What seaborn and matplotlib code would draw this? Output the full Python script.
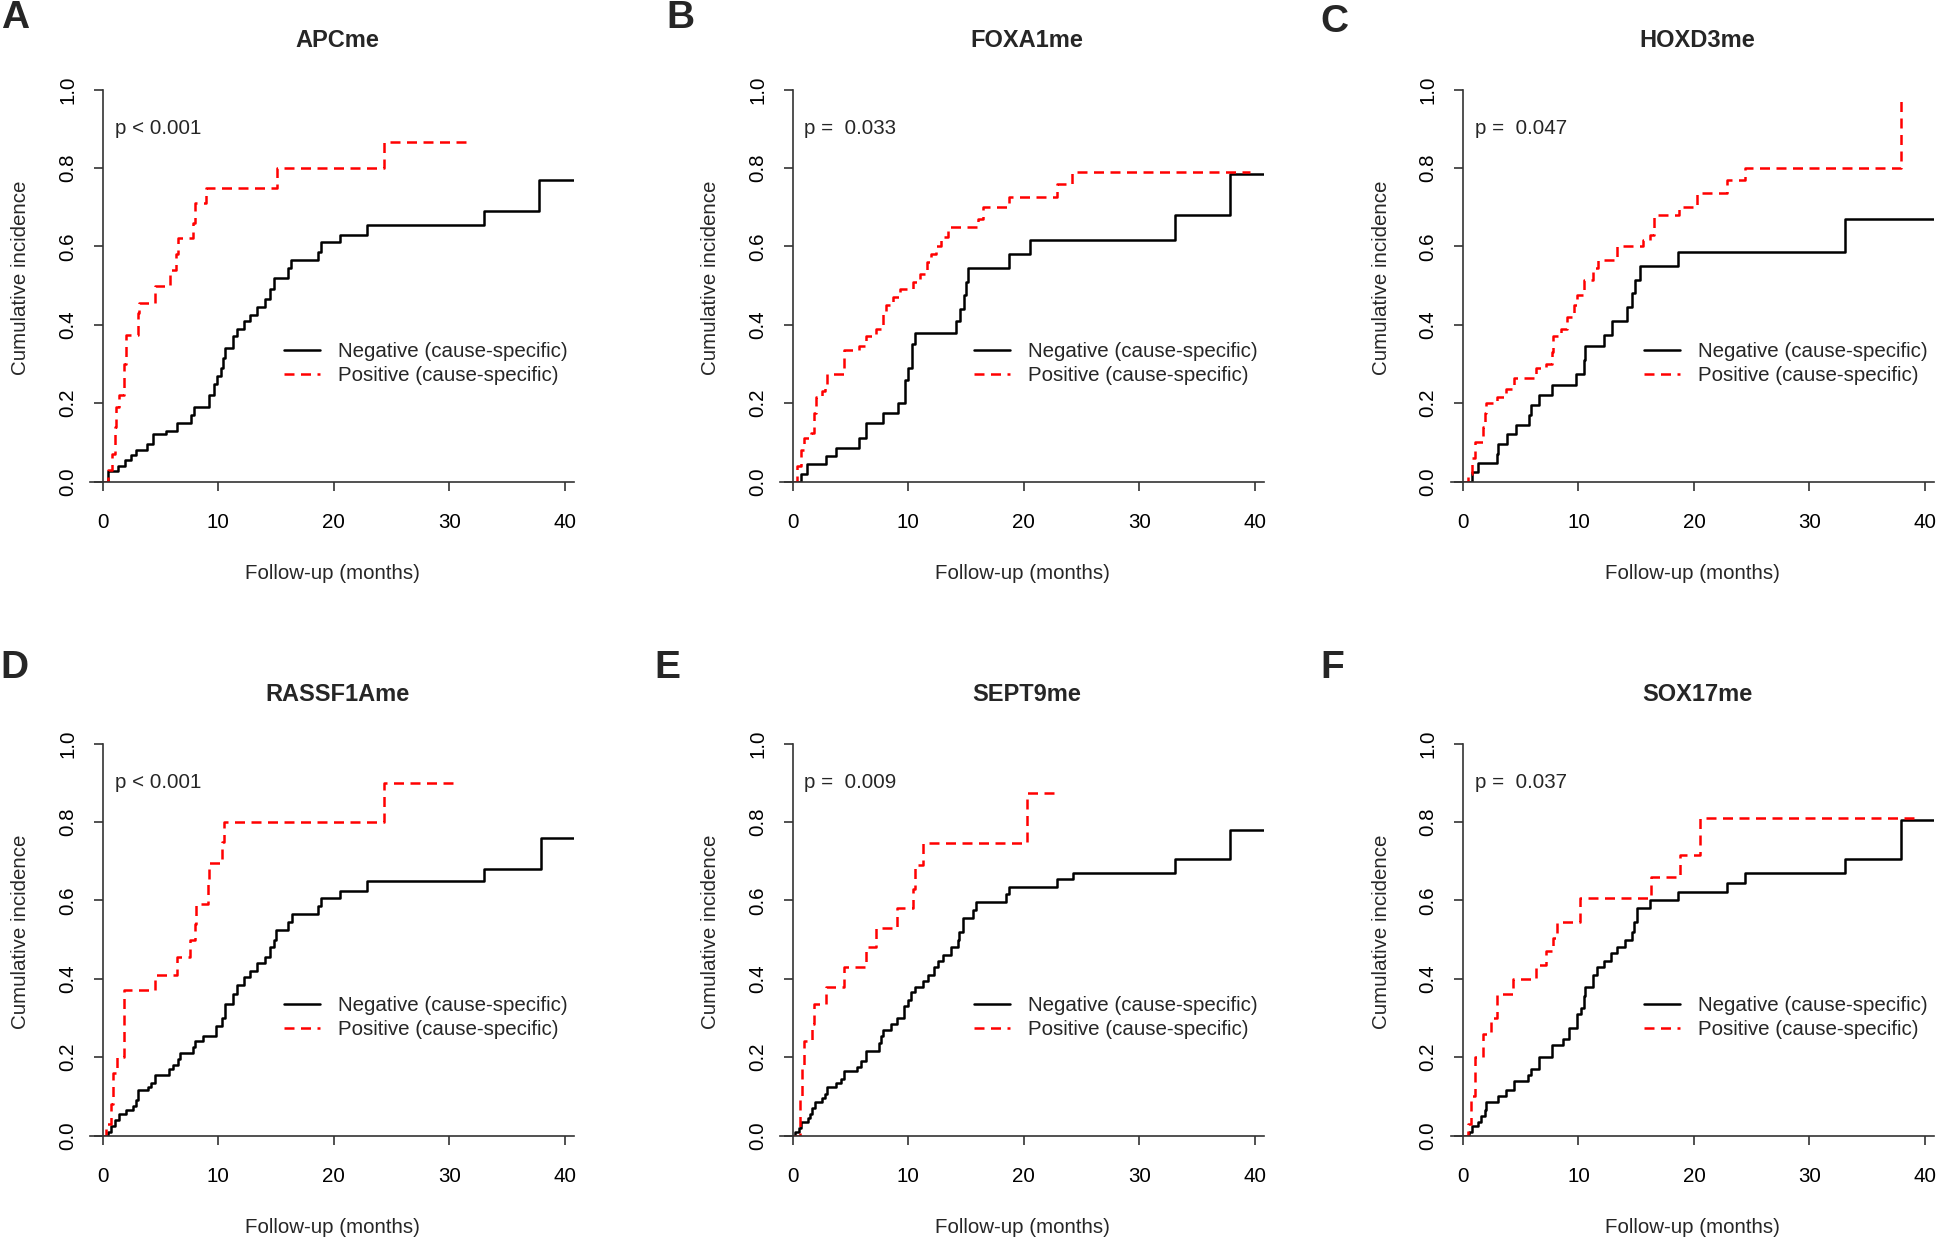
import numpy as np
import pandas as pd
import matplotlib
matplotlib.use("Agg")
import matplotlib.pyplot as plt
import seaborn as sns

# ==========================================
# 1. DATA
# ==========================================
LETTERS = ["A", "B", "C", "D", "E", "F"]
GENES = ["APCme", "FOXA1me", "HOXD3me", "RASSF1Ame", "SEPT9me", "SOX17me"]
P_TEXT = ["p < 0.001", "p =  0.033", "p =  0.047", "p < 0.001", "p =  0.009", "p =  0.037"]
NEG_LABEL = "Negative (cause-specific)"
POS_LABEL = "Positive (cause-specific)"

# A - APCme
A_NEG_T = [0.4, 1.3, 1.9, 2.4, 2.9, 3.8, 4.3, 5.5, 6.4, 7.6, 7.9, 9.2, 9.6, 9.9, 10.2, 10.4, 10.6,
           11.3, 11.6, 12.2, 12.7, 13.3, 14.0, 14.5, 14.8, 16.0, 16.3, 18.6, 18.9, 20.5, 22.9, 33.0, 37.8]
A_NEG_Y = [0.028, 0.04, 0.055, 0.068, 0.08, 0.095, 0.12, 0.13, 0.15, 0.17, 0.19, 0.22, 0.25, 0.27, 0.29,
           0.315, 0.34, 0.37, 0.39, 0.41, 0.425, 0.445, 0.465, 0.49, 0.52, 0.545, 0.565, 0.585, 0.61,
           0.63, 0.655, 0.69, 0.77]
A_POS_T = [0.4, 0.8, 1.0, 1.1, 1.4, 1.8, 2.0, 3.0, 3.1, 4.5, 5.8, 6.3, 6.5, 7.8, 8.0, 8.9, 15.1, 24.3]
A_POS_Y = [0.03, 0.07, 0.14, 0.19, 0.22, 0.30, 0.375, 0.43, 0.455, 0.50, 0.54, 0.58, 0.62, 0.66, 0.71,
           0.75, 0.80, 0.865]

# B - FOXA1me
B_NEG_T = [0.7, 1.2, 2.9, 3.7, 5.7, 6.3, 7.8, 9.1, 9.7, 10.0, 10.3, 10.6, 14.1, 14.5, 14.8, 15.0, 15.2,
           18.7, 20.5, 33.1, 37.9]
B_NEG_Y = [0.02, 0.045, 0.065, 0.085, 0.11, 0.15, 0.175, 0.20, 0.26, 0.29, 0.35, 0.38, 0.41, 0.44,
           0.475, 0.51, 0.545, 0.58, 0.615, 0.68, 0.785]
B_POS_T = [0.4, 0.7, 1.0, 1.6, 1.8, 2.0, 2.5, 2.8, 3.0, 4.4, 5.7, 6.3, 7.2, 7.8, 8.1, 8.7, 9.3, 10.4,
           11.0, 11.6, 12.0, 12.4, 12.8, 13.4, 16.0, 16.5, 18.7, 22.9, 24.2]
B_POS_Y = [0.04, 0.08, 0.11, 0.125, 0.175, 0.215, 0.23, 0.245, 0.275, 0.335, 0.345, 0.37, 0.39, 0.43,
           0.45, 0.47, 0.49, 0.51, 0.53, 0.56, 0.58, 0.60, 0.625, 0.65, 0.67, 0.70, 0.725, 0.76, 0.79]

# C - HOXD3me
C_NEG_T = [0.8, 1.3, 2.9, 3.0, 3.8, 4.6, 5.7, 5.9, 6.6, 7.7, 9.8, 10.5, 10.6, 12.2, 12.9, 14.2, 14.6,
           14.9, 15.3, 18.6, 33.1]
C_NEG_Y = [0.025, 0.048, 0.07, 0.095, 0.12, 0.145, 0.17, 0.195, 0.22, 0.245, 0.275, 0.31, 0.345, 0.375,
           0.41, 0.445, 0.48, 0.515, 0.55, 0.585, 0.67]
C_POS_T = [0.4, 0.8, 1.0, 1.7, 1.9, 2.0, 2.9, 3.7, 4.4, 6.3, 7.2, 7.7, 7.8, 8.5, 9.0, 9.6, 9.9, 10.5,
           11.3, 11.7, 13.3, 15.6, 16.2, 16.5, 18.7, 20.3, 22.9, 24.4, 37.9]
C_POS_Y = [0.02, 0.06, 0.10, 0.14, 0.175, 0.20, 0.215, 0.235, 0.265, 0.29, 0.30, 0.33, 0.37, 0.39, 0.42,
           0.45, 0.475, 0.515, 0.545, 0.565, 0.60, 0.615, 0.63, 0.68, 0.70, 0.735, 0.77, 0.80, 0.985]

# D - RASSF1Ame
D_NEG_T = [0.4, 0.7, 1.0, 1.4, 2.0, 2.6, 2.9, 3.0, 3.9, 4.2, 4.5, 5.7, 6.1, 6.5, 6.7, 7.8, 8.0, 8.7, 9.8,
           10.3, 10.6, 11.3, 11.6, 12.2, 12.7, 13.3, 14.0, 14.5, 14.8, 15.0, 16.0, 16.4, 18.6, 18.9, 20.5,
           22.9, 33.0, 37.9]
D_NEG_Y = [0.01, 0.025, 0.04, 0.055, 0.065, 0.075, 0.09, 0.115, 0.125, 0.135, 0.155, 0.17, 0.18, 0.195,
           0.21, 0.225, 0.24, 0.255, 0.28, 0.30, 0.335, 0.36, 0.385, 0.405, 0.42, 0.44, 0.455, 0.48, 0.50,
           0.525, 0.545, 0.565, 0.585, 0.605, 0.625, 0.65, 0.68, 0.76]
D_POS_T = [0.3, 0.7, 0.9, 1.2, 1.8, 4.5, 6.4, 7.5, 8.0, 8.1, 9.1, 9.2, 10.3, 10.5, 24.3]
D_POS_Y = [0.03, 0.08, 0.16, 0.20, 0.37, 0.41, 0.455, 0.50, 0.54, 0.59, 0.645, 0.695, 0.75, 0.80, 0.90]

# E - SEPT9me
E_NEG_T = [0.2, 0.5, 0.7, 1.3, 1.5, 1.7, 1.9, 2.5, 2.8, 3.0, 3.7, 4.2, 4.4, 5.6, 5.9, 6.3, 7.5, 7.6, 7.8,
           8.5, 9.0, 9.6, 10.0, 10.2, 10.6, 11.3, 11.7, 12.2, 12.6, 13.0, 13.7, 14.3, 14.4, 14.7, 15.6,
           15.9, 18.5, 18.7, 22.9, 24.3, 33.1, 37.9]
E_NEG_Y = [0.01, 0.02, 0.035, 0.045, 0.055, 0.07, 0.085, 0.095, 0.105, 0.125, 0.135, 0.145, 0.165, 0.175,
           0.19, 0.215, 0.235, 0.255, 0.27, 0.285, 0.30, 0.33, 0.345, 0.365, 0.38, 0.395, 0.41, 0.43,
           0.445, 0.46, 0.48, 0.50, 0.52, 0.555, 0.575, 0.595, 0.615, 0.635, 0.655, 0.67, 0.705, 0.78]
E_POS_T = [0.6, 0.8, 1.0, 1.7, 1.8, 2.9, 4.4, 6.3, 7.2, 9.0, 10.4, 10.6, 11.3, 20.3]
E_POS_Y = [0.10, 0.18, 0.24, 0.285, 0.335, 0.38, 0.43, 0.48, 0.53, 0.58, 0.63, 0.69, 0.745, 0.875]

# F - SOX17me
F_NEG_T = [0.5, 0.8, 1.3, 1.6, 1.9, 2.0, 3.0, 3.7, 4.4, 5.6, 5.9, 6.6, 7.7, 8.7, 9.2, 9.9, 10.2, 10.5,
           10.6, 11.3, 11.6, 12.2, 12.8, 13.3, 14.0, 14.6, 14.8, 15.1, 16.2, 18.6, 22.9, 24.4, 33.1, 37.9]
F_NEG_Y = [0.01, 0.025, 0.035, 0.05, 0.065, 0.085, 0.10, 0.115, 0.14, 0.155, 0.17, 0.20, 0.23, 0.245,
           0.275, 0.31, 0.325, 0.355, 0.38, 0.41, 0.43, 0.445, 0.465, 0.48, 0.50, 0.52, 0.545, 0.58,
           0.60, 0.62, 0.645, 0.67, 0.705, 0.805]
F_POS_T = [0.4, 0.7, 1.0, 1.7, 2.4, 2.9, 4.3, 6.3, 7.2, 7.8, 8.1, 10.1, 16.3, 18.8, 20.5]
F_POS_Y = [0.03, 0.10, 0.20, 0.26, 0.30, 0.36, 0.40, 0.435, 0.47, 0.505, 0.545, 0.605, 0.66, 0.715, 0.81]

# last follow-up time of each curve (negative groups run past the x-axis)
NEG_END = [41.5, 41.5, 41.5, 41.5, 41.5, 41.5]
POS_END = [32.0, 39.6, 37.9, 30.5, 23.0, 39.6]

NEG_T = [A_NEG_T, B_NEG_T, C_NEG_T, D_NEG_T, E_NEG_T, F_NEG_T]
NEG_Y = [A_NEG_Y, B_NEG_Y, C_NEG_Y, D_NEG_Y, E_NEG_Y, F_NEG_Y]
POS_T = [A_POS_T, B_POS_T, C_POS_T, D_POS_T, E_POS_T, F_POS_T]
POS_Y = [A_POS_Y, B_POS_Y, C_POS_Y, D_POS_Y, E_POS_Y, F_POS_Y]


def step_frame(times, values, end, label):
    # curve starts at (0, 0) and holds its last value until the end of follow-up
    t = [0.0] + list(times) + [end]
    y = [0.0] + list(values) + [values[-1]]
    return pd.DataFrame({"time": t, "cuminc": y, "group": label})


# ==========================================
# 2. FIGURE
# ==========================================
sns.set_theme(style="white")
plt.rcParams["font.family"] = ["Liberation Sans", "DejaVu Sans"]
FS = 14.8

W, H = 1946, 1241
fig = plt.figure(figsize=(W / 100, H / 100), dpi=100)

col_left = [0.0465, 0.401, 0.7454]
row_bottom = [0.612, 0.085]
ax_w, ax_h = 0.2485, 0.3285
letter_xy = [(15, 18), (680, 18), (1334, 22), (14, 668), (667, 668), (1332, 668)]

for i in range(6):
    r, c = divmod(i, 3)
    ax = fig.add_axes([col_left[c], row_bottom[r], ax_w, ax_h])

    df = pd.concat([
        step_frame(NEG_T[i], NEG_Y[i], NEG_END[i], NEG_LABEL),
        step_frame(POS_T[i], POS_Y[i], POS_END[i], POS_LABEL),
    ], ignore_index=True)

    sns.lineplot(data=df, x="time", y="cuminc", hue="group", style="group",
                 hue_order=[NEG_LABEL, POS_LABEL], style_order=[NEG_LABEL, POS_LABEL],
                 palette={NEG_LABEL: "black", POS_LABEL: "#ff0000"},
                 dashes={NEG_LABEL: "", POS_LABEL: (4, 2.6)},
                 estimator=None, sort=False, drawstyle="steps-post",
                 linewidth=1.8, ax=ax)

    ax.set_xlim(-1.08, 40.8)
    ax.set_ylim(0, 1.04)
    ax.set_xticks([0, 10, 20, 30, 40])
    ax.set_yticks([0.0, 0.2, 0.4, 0.6, 0.8, 1.0])
    ax.set_yticklabels(["0.0", "0.2", "0.4", "0.6", "0.8", "1.0"])

    for s in ["top", "right"]:
        ax.spines[s].set_visible(False)
    ax.spines["left"].set_position(("data", 0))
    ax.spines["left"].set_bounds(0, 1)
    for s in ["left", "bottom"]:
        ax.spines[s].set_color("#333333")
        ax.spines[s].set_linewidth(1.2)

    ax.tick_params(axis="both", direction="out", length=6.5, width=1.2, color="#333333",
                   labelsize=FS, labelcolor="black", left=True, bottom=True)
    ax.tick_params(axis="x", pad=16)
    ax.tick_params(axis="y", pad=12, labelrotation=90)
    for lab in ax.get_yticklabels():
        lab.set_verticalalignment("center")

    ax.set_xlabel("Follow-up (months)", fontsize=FS, labelpad=23)
    ax.set_ylabel("Cumulative incidence", fontsize=FS, labelpad=20)
    ax.set_title(GENES[i], fontsize=17, fontweight="bold", pad=19, x=0.51)

    ax.text(1.0, 0.90, P_TEXT[i], fontsize=FS, ha="left", va="center")

    handles, labels = ax.get_legend_handles_labels()
    ax.legend(handles, labels, loc="center left", bbox_to_anchor=(0.40, 0.29),
              frameon=False, fontsize=FS, handlelength=1.75, handletextpad=0.9,
              labelspacing=0.25, borderpad=0, borderaxespad=0)

    lx, ly = letter_xy[i]
    fig.text(lx / W, 1 - ly / H, LETTERS[i], fontsize=28, fontweight="bold",
             ha="center", va="center")

plt.savefig("out.png", dpi=100, facecolor="white")
plt.close()
